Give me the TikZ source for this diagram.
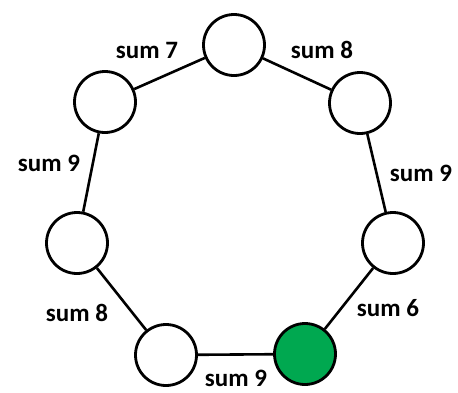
\documentclass[tikz,border=0pt]{standalone}
\usepackage{fontspec}
\setmainfont{Carlito}
\definecolor{gfill}{RGB}{0,168,80}
\begin{document}
\begin{tikzpicture}[x=1pt,y=-1pt,
  vert/.style={circle,draw=black,line width=2.8pt,fill=white,minimum size=61pt,inner sep=0pt},
  edge/.style={line width=2.6pt},
  lab/.style={font=\bfseries\fontsize{25}{28}\selectfont,inner sep=0pt}]
\useasboundingbox (0,0) rectangle (458,392);
\node[vert] (t) at (234,45) {};
\node[vert] (ul) at (105,102) {};
\node[vert] (ur) at (360,103) {};
\node[vert] (l) at (77,243) {};
\node[vert] (r) at (393,243) {};
\node[vert] (bl) at (166,355) {};
\node[vert,fill=gfill] (g) at (305,354) {};
\draw[edge] (ul) -- (t);
\draw[edge] (t) -- (ur);
\draw[edge] (ur) -- (r);
\draw[edge] (r) -- (g);
\draw[edge] (g) -- (bl);
\draw[edge] (bl) -- (l);
\draw[edge] (l) -- (ul);
\node[lab] (s1) at (147,50) {sum 7};
\node[lab] (s2) at (322,50) {sum 8};
\node[lab] (s3) at (49,163) {sum 9};
\node[lab] (s4) at (421,173) {sum 9};
\node[lab] (s5) at (77,313) {sum 8};
\node[lab] (s6) at (388,308) {sum 6};
\node[lab] (s7) at (236,378) {sum 9};
\end{tikzpicture}
\end{document}
